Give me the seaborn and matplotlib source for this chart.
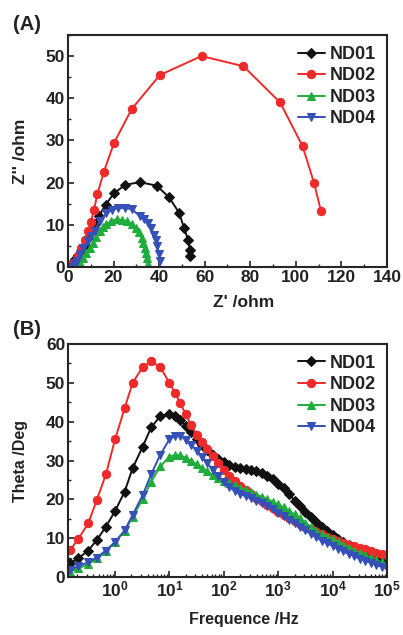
import seaborn as sns
import pandas as pd
import numpy as np
import matplotlib.pyplot as plt
from matplotlib.ticker import MultipleLocator, LogLocator, NullFormatter, FuncFormatter

# Panel A: Nyquist plot (Z' vs Z'')
nd01_zr = [0.5, 1.5, 3.0, 4.5, 6.0, 7.5, 9.0, 10.3, 11.7, 13.5, 16.6, 20.2, 25.2, 31.5, 38.9, 44.4, 48.7, 51.0, 52.8, 53.5, 53.7]
nd01_zi = [0.0, 0.8, 1.8, 2.8, 4.0, 5.3, 6.8, 8.5, 10.3, 12.1, 14.8, 17.5, 19.5, 20.1, 19.3, 16.5, 12.9, 9.2, 6.3, 4.1, 2.6]
nd02_zr = [0.7, 2.2, 4.4, 5.9, 7.3, 8.8, 10.0, 11.4, 12.9, 15.7, 20.1, 27.9, 40.3, 58.6, 77.0, 93.1, 103.0, 108.0, 111.0]
nd02_zi = [0.0, 1.0, 2.5, 4.5, 6.5, 8.5, 10.7, 13.5, 17.3, 22.5, 29.3, 37.4, 45.5, 50.0, 47.6, 39.0, 28.6, 19.9, 13.3]
nd03_zr = [4.0, 5.1, 6.5, 8.1, 9.5, 11.0, 12.5, 13.9, 15.5, 16.9, 19.0, 21.3, 23.5, 25.7, 28.0, 30.0, 31.3, 32.3, 33.1, 33.7, 34.2, 34.5, 34.9]
nd03_zi = [0.0, 1.0, 2.2, 3.3, 4.5, 5.7, 7.2, 8.5, 9.5, 10.1, 10.9, 11.3, 11.2, 10.9, 10.2, 9.3, 8.2, 6.9, 5.7, 4.5, 3.3, 2.2, 0.6]
nd04_zr = [1.5, 2.9, 4.0, 5.1, 6.5, 8.8, 10.3, 11.7, 13.9, 16.9, 19.5, 22.0, 25.0, 28.0, 31.5, 33.5, 35.2, 36.5, 37.7, 38.5, 39.1, 40.0, 40.3]
nd04_zi = [0.0, 0.6, 1.5, 3.0, 4.5, 6.1, 7.3, 8.5, 10.9, 12.7, 13.6, 14.0, 14.0, 13.7, 12.1, 11.3, 10.5, 9.2, 7.7, 6.3, 4.9, 3.0, 1.4]

# Panel B: Bode phase plot (sparser below 10 Hz, denser above)
freq = [0.15, 0.21, 0.32, 0.46, 0.68, 1.0, 1.5, 2.1, 3.2, 4.6, 6.8,
        10, 12.6, 15.8, 20, 25, 32, 40, 50, 63, 79,
        100, 126, 158, 200, 251, 316, 398, 501, 631, 794,
        1000, 1259, 1585, 1995, 2512, 3162, 3981, 5012, 6310, 7943,
        10000, 12589, 15849, 19953, 25119, 31623, 39811, 50119, 63096, 79433, 100000]
nd01_theta = [3.5, 4.8, 6.8, 9.5, 13.0, 17.0, 22.0, 28.0, 33.5, 38.5, 41.5,
              42.0, 41.5, 40.4, 39.0, 37.3, 35.5, 34.0, 32.6, 31.3, 30.3,
              29.5, 28.9, 28.4, 28.1, 27.8, 27.5, 27.2, 26.8, 26.1, 25.2,
              24.0, 22.8, 21.4, 19.7, 18.2, 16.8, 15.4, 14.1, 12.8, 11.8,
              10.8, 9.9, 9.1, 8.3, 7.5, 6.8, 6.2, 5.6, 5.1, 4.5, 4.0]
nd02_theta = [7.0, 9.8, 13.8, 19.8, 26.5, 35.5, 43.5, 50.0, 54.0, 55.5, 54.0,
              50.0, 47.4, 44.7, 41.9, 39.1, 36.5, 34.7, 32.9, 31.1, 29.3,
              27.5, 26.0, 24.6, 23.4, 22.3, 21.3, 20.4, 19.5, 18.6, 17.7,
              16.8, 16.0, 15.2, 14.4, 13.7, 13.0, 12.3, 11.6, 11.0, 10.4,
              9.8, 9.3, 8.8, 8.3, 7.9, 7.5, 7.1, 6.7, 6.3, 5.9, 5.6]
nd03_theta = [1.4, 2.2, 3.3, 4.8, 6.8, 9.0, 11.8, 15.5, 20.0, 24.5, 28.5,
              31.0, 31.4, 31.3, 30.7, 29.9, 29.0, 28.1, 27.2, 26.3, 25.5,
              24.8, 24.2, 23.6, 23.0, 22.4, 21.8, 21.2, 20.6, 20.0, 19.4,
              18.7, 17.9, 17.0, 16.1, 15.1, 14.0, 12.9, 11.9, 11.0, 10.4,
              9.8, 9.0, 8.3, 7.5, 6.8, 6.2, 5.6, 5.0, 4.4, 3.8, 3.3]
nd04_theta = [1.8, 2.8, 3.8, 5.0, 6.8, 9.0, 12.0, 16.0, 21.0, 26.5, 31.5,
              35.5, 36.3, 36.4, 35.4, 34.0, 32.5, 30.9, 29.3, 27.6, 26.0,
              24.5, 23.3, 22.2, 21.4, 20.8, 20.3, 19.7, 19.1, 18.3, 17.4,
              16.5, 15.6, 14.7, 13.8, 12.9, 12.0, 11.1, 10.2, 9.4, 8.7,
              8.0, 7.3, 6.6, 5.9, 5.3, 4.7, 4.2, 3.7, 3.2, 2.7, 2.3]

labels = ['ND01', 'ND02', 'ND03', 'ND04']
colors = ['#111111', '#ee2a2a', '#1fae3c', '#3550b8']
markers = ['D', 'o', '^', 'v']
freq_ticks = [1, 10, 100, 1000, 10000, 100000]

sns.set_theme(style='ticks')
plt.rcParams['font.family'] = ['Liberation Sans', 'DejaVu Sans']
plt.rcParams['font.weight'] = 'bold'
plt.rcParams['axes.labelweight'] = 'bold'
plt.rcParams['axes.linewidth'] = 1.5
plt.rcParams['mathtext.fontset'] = 'custom'
plt.rcParams['mathtext.rm'] = 'Liberation Sans:bold'
plt.rcParams['mathtext.bf'] = 'Liberation Sans:bold'
plt.rcParams['mathtext.it'] = 'Liberation Sans:bold'
plt.rcParams['text.color'] = '#222222'
plt.rcParams['axes.labelcolor'] = '#222222'
plt.rcParams['xtick.color'] = '#222222'
plt.rcParams['ytick.color'] = '#222222'

fig = plt.figure(figsize=(4.03, 6.35), dpi=100)
ax_a = fig.add_axes([0.1687, 0.5795, 0.7916, 0.3654])
ax_b = fig.add_axes([0.1687, 0.0913, 0.7916, 0.3670])

nyq = [(nd01_zr, nd01_zi), (nd02_zr, nd02_zi), (nd03_zr, nd03_zi), (nd04_zr, nd04_zi)]
for (zr, zi), lab, c, m in zip(nyq, labels, colors, markers):
    sns.lineplot(x=zr, y=zi, sort=False, ax=ax_a, color=c, marker=m, markersize=5.5 if m == 'D' else 6,
                 markeredgecolor=c, linewidth=1.4, label=lab)

bode = [nd01_theta, nd02_theta, nd03_theta, nd04_theta]
for th, lab, c, m in zip(bode, labels, colors, markers):
    sns.lineplot(x=freq, y=th, sort=False, ax=ax_b, color=c, marker=m, markersize=5.5 if m == 'D' else 6,
                 markeredgecolor=c, linewidth=1.4, label=lab)

ax_a.set_xlim(0, 140)
ax_a.set_ylim(0, 55)
ax_a.xaxis.set_major_locator(MultipleLocator(20))
ax_a.xaxis.set_minor_locator(MultipleLocator(10))
ax_a.yaxis.set_major_locator(MultipleLocator(10))
ax_a.yaxis.set_minor_locator(MultipleLocator(5))
ax_a.set_xlabel("Z' /ohm", fontsize=12.5)
ax_a.set_ylabel("Z'' /ohm", fontsize=12.5)
ax_a.xaxis.set_label_coords(0.55, -0.12)
ax_a.yaxis.set_label_coords(-0.125, 0.5)

ax_b.set_xscale('log')
ax_b.set_xlim(0.136, 1e5)
ax_b.set_ylim(0, 60)
ax_b.set_xticks(freq_ticks)
ax_b.xaxis.set_major_formatter(FuncFormatter(lambda v, p: r'$\mathbf{10^{%d}}$' % round(np.log10(v))))
ax_b.xaxis.set_minor_locator(LogLocator(base=10, subs=np.arange(2, 10), numticks=20))
ax_b.xaxis.set_minor_formatter(NullFormatter())
ax_b.yaxis.set_major_locator(MultipleLocator(10))
ax_b.yaxis.set_minor_locator(MultipleLocator(5))
ax_b.set_xlabel('Frequence /Hz', fontsize=11.5)
ax_b.set_ylabel('Theta /Deg', fontsize=11.5)
ax_b.xaxis.set_label_coords(0.55, -0.15)
ax_b.yaxis.set_label_coords(-0.125, 0.5)

for ax in (ax_a, ax_b):
    ax.tick_params(which='major', direction='in', length=4, width=1.2, labelsize=12.5, pad=2)
    ax.tick_params(which='minor', direction='in', length=2.5, width=1.0)
    for t in ax.get_xticklabels() + ax.get_yticklabels():
        t.set_fontweight('bold')
    ax.legend(loc='upper right', frameon=False, fontsize=13, handlelength=1.5,
              handletextpad=0.3, labelspacing=0.25, borderaxespad=0.2)

fig.text(0.032, 0.952, '(A)', fontsize=14.5, fontweight='bold')
fig.text(0.032, 0.472, '(B)', fontsize=14.5, fontweight='bold')

plt.savefig('out.png', dpi=100)
